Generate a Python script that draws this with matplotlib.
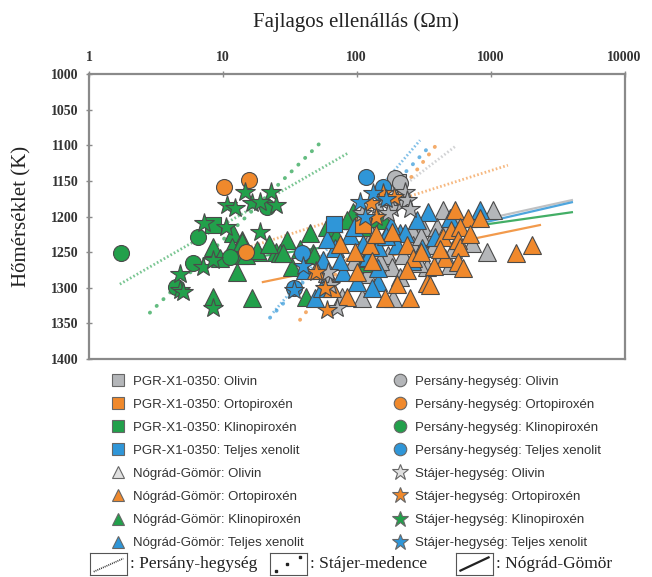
import numpy as np
import matplotlib
matplotlib.use('Agg')
import matplotlib.pyplot as plt
from matplotlib.lines import Line2D

# ---------------- colours ----------------
C_GRAY = '#b4b6b9'
C_OR = '#f0892c'
C_GR = '#22a04b'
C_BL = '#2f96d8'
EDGE = '#4a4a4a'

# ---------------- data (resistivity Ohm m, temperature K) ----------------
# PGR-X1-0350 (squares)
pgr_olivin_R = [205]
pgr_olivin_T = [1152]
pgr_orto_R = [111]
pgr_orto_T = [1212]
pgr_klino_R = [8.4]
pgr_klino_T = [1212]
pgr_teljes_R = [68]
pgr_teljes_T = [1211]

# Persany-hegyseg (circles)
per_olivin_R = [193, 212]
per_olivin_T = [1146, 1153]
per_orto_R = [10.2, 15.7, 15.0]
per_orto_T = [1159, 1149, 1250]
per_klino_R = [1.72, 6.5, 6.0, 4.5, 21.3, 11.3]
per_klino_T = [1251, 1229, 1265, 1299, 1187, 1257]
per_teljes_R = [117, 157, 39, 34]
per_teljes_T = [1144, 1159, 1251, 1300]

# Nograd-Gomor (triangles)
ng_olivin_R = [440, 310, 260, 130, 172, 222, 265, 365, 433, 183, 335, 78, 110, 187,
               60, 1040, 570, 725, 940, 395, 500, 150, 210, 290, 380, 520, 95, 120,
               300, 480]
ng_olivin_T = [1191, 1215, 1219, 1226, 1254, 1254, 1240, 1230, 1254, 1271, 1271, 1313,
               1314, 1314, 1279, 1191, 1202, 1237, 1250, 1215, 1268, 1262, 1285, 1265,
               1240, 1245, 1262, 1280, 1228, 1212]
ng_orto_R = [545, 183, 126, 440, 97, 236, 265, 455, 100, 236, 335, 84, 162, 250, 50,
             675, 830, 510, 591, 570, 591, 570, 620, 1540, 2050, 352, 140, 300, 200,
             380, 420, 130, 700, 65, 75]
ng_orto_T = [1191, 1222, 1240, 1229, 1250, 1240, 1258, 1258, 1278, 1275, 1293, 1313,
             1314, 1314, 1275, 1202, 1202, 1219, 1215, 1233, 1243, 1264, 1272, 1251,
             1240, 1296, 1225, 1250, 1295, 1270, 1245, 1262, 1225, 1300, 1238]
ng_klino_R = [11.9, 13.9, 8.4, 11.7, 13.4, 18.3, 25, 12.7, 8.4, 16.5, 9.5, 93, 141,
              159, 45, 30, 26.7, 47, 42, 33, 84, 111, 28, 14, 15, 48, 18, 60, 70, 38,
              110, 22]
ng_klino_T = [1223, 1233, 1243, 1243, 1254, 1250, 1250, 1278, 1313, 1314, 1258, 1194,
              1202, 1205, 1223, 1233, 1251, 1251, 1313, 1271, 1205, 1265, 1251, 1236,
              1254, 1254, 1247, 1215, 1228, 1245, 1215, 1238]
ng_teljes_R = [341, 89, 210, 69, 144, 119, 79, 144, 49, 830, 497, 111, 121, 144, 229,
               307, 385, 56, 41, 60, 95, 180, 260, 100, 130, 55, 75, 200, 165, 280]
ng_teljes_T = [1194, 1226, 1223, 1244, 1243, 1258, 1278, 1292, 1314, 1191, 1202, 1238,
               1257, 1272, 1223, 1244, 1229, 1261, 1275, 1232, 1215, 1212, 1262, 1292,
               1300, 1300, 1262, 1240, 1228, 1205]

# Stajer-hegyseg (stars)
st_olivin_R = [229, 200, 144, 183, 218, 236, 172, 71, 63, 61, 160, 250, 110]
st_olivin_T = [1166, 1177, 1184, 1188, 1181, 1177, 1195, 1328, 1296, 1278, 1172, 1190,
               1195]
st_orto_R = [157, 127, 60, 58, 50, 190, 140]
st_orto_T = [1167, 1181, 1331, 1300, 1278, 1172, 1200]
st_klino_R = [14.6, 22.8, 10.7, 12.3, 16.5, 18.9, 25, 7.2, 10.6, 18.9, 4.8, 4.8, 5.0,
              8.4, 7.1, 8.4]
st_klino_T = [1166, 1166, 1184, 1188, 1181, 1180, 1184, 1209, 1215, 1222, 1280, 1303,
              1306, 1328, 1271, 1261]
st_teljes_R = [133, 106, 34, 40, 165, 115]
st_teljes_T = [1167, 1180, 1303, 1270, 1175, 1200]

# Trend lines: (colour, R endpoints, T endpoints)
persany_lines = [
    (C_GR, [1.70, 86], [1295, 1111]),
    (C_BL, [23.7, 297], [1335, 1093]),
    (C_GRAY, [63, 541], [1236, 1102]),
    (C_OR, [13.4, 1346], [1247, 1128]),
]
stajer_lines = [
    (C_GR, [2.85, 57.9], [1335, 1090]),
    (C_BL, [22.5, 340], [1342, 1104]),
    (C_OR, [37.7, 384], [1345, 1102]),
]
nograd_lines = [
    (C_OR, [19.9, 2335], [1292, 1212]),
    (C_GR, [15.9, 4046], [1258, 1194]),
    (C_GRAY, [150, 4046], [1236, 1177]),
    (C_BL, [150, 4046], [1242, 1180]),
]

x_ticks = [1, 10, 100, 1000, 10000]
x_tick_labels = ['1', '10', '100', '1000', '10000']
y_ticks = [1000, 1050, 1100, 1150, 1200, 1250, 1300, 1350, 1400]

# ---------------- figure ----------------
fig = plt.figure(figsize=(6.52, 5.77), dpi=100)
ax = fig.add_axes([89 / 652, 1 - 359 / 577, (624.5 - 89) / 652, (359 - 74) / 577])
ax.set_xscale('log')
ax.set_xlim(1, 10000)
ax.set_ylim(1400, 1000)

serif = 'Liberation Serif'
sans = 'Liberation Sans'

FINE = dict(linestyle=(0, (0.6, 0.8)), linewidth=2.0, alpha=0.6)
COARSE = dict(linestyle=(0, (0.05, 2.4)), linewidth=2.8, alpha=0.7,
              dash_capstyle='round')
SOLID = dict(linestyle='-', linewidth=1.6, alpha=0.85)

for c, R, T in persany_lines:
    ax.plot(R, T, color=c, zorder=1, **FINE)
for c, R, T in stajer_lines:
    ax.plot(R, T, color=c, zorder=1, **COARSE)
for c, R, T in nograd_lines:
    ax.plot(R, T, color=c, zorder=1, **SOLID)

mk = dict(linestyle='none', markeredgecolor=EDGE, markeredgewidth=0.8)
TRI, SQ, CIR, STAR = 12.5, 11.5, 11.5, 15

# triangles
for R, T, c in [(ng_olivin_R, ng_olivin_T, C_GRAY), (ng_klino_R, ng_klino_T, C_GR),
                (ng_teljes_R, ng_teljes_T, C_BL), (ng_orto_R, ng_orto_T, C_OR)]:
    ax.plot(R, T, marker='^', markersize=TRI, markerfacecolor=c, zorder=3, **mk)
# squares
for R, T, c in [(pgr_olivin_R, pgr_olivin_T, C_GRAY), (pgr_orto_R, pgr_orto_T, C_OR),
                (pgr_klino_R, pgr_klino_T, C_GR), (pgr_teljes_R, pgr_teljes_T, C_BL)]:
    ax.plot(R, T, marker='s', markersize=SQ, markerfacecolor=c, zorder=4, **mk)
# circles
for R, T, c in [(per_olivin_R, per_olivin_T, C_GRAY), (per_orto_R, per_orto_T, C_OR),
                (per_klino_R, per_klino_T, C_GR), (per_teljes_R, per_teljes_T, C_BL)]:
    ax.plot(R, T, marker='o', markersize=CIR, markerfacecolor=c, zorder=4, **mk)
# stars
for R, T, c in [(st_olivin_R, st_olivin_T, C_GRAY), (st_orto_R, st_orto_T, C_OR),
                (st_klino_R, st_klino_T, C_GR), (st_teljes_R, st_teljes_T, C_BL)]:
    ax.plot(R, T, marker='*', markersize=STAR, markerfacecolor=c, zorder=5, **mk)

# axes styling
for s in ax.spines.values():
    s.set_color('#8a8a8a')
    s.set_linewidth(1.6)
ax.xaxis.tick_top()
ax.set_xticks(x_ticks)
ax.set_xticklabels(x_tick_labels)
ax.xaxis.set_minor_locator(matplotlib.ticker.NullLocator())
ax.set_yticks(y_ticks)
ax.tick_params(axis='both', direction='inout', length=5, width=1.0, color='#8a8a8a',
               labelsize=10, pad=5)
for lab in ax.get_xticklabels() + ax.get_yticklabels():
    lab.set_fontfamily(serif)
    lab.set_fontweight('bold')
    lab.set_color('#333333')

fig.text(356 / 652, 1 - 22 / 577, 'Fajlagos ellenállás (Ωm)', ha='center', va='center',
         fontsize=15, family=serif, color='#222222')
fig.text(22 / 652, 1 - 216 / 577, 'Hőmérséklet (K)', ha='center', va='center',
         rotation=90, fontsize=15, family=serif, color='#222222')

# ---------------- legend ----------------
def h(marker, color, ms):
    return Line2D([], [], linestyle='none', marker=marker, markersize=ms,
                  markerfacecolor=color, markeredgecolor='#666666', markeredgewidth=0.8)

left_handles = [h('s', C_GRAY, 9), h('s', C_OR, 9), h('s', C_GR, 9), h('s', C_BL, 9),
                h('^', '#e0e0e0', 9), h('^', C_OR, 9), h('^', C_GR, 9), h('^', C_BL, 9)]
left_labels = ['PGR-X1-0350: Olivin', 'PGR-X1-0350: Ortopiroxén',
               'PGR-X1-0350: Klinopiroxén', 'PGR-X1-0350: Teljes xenolit',
               'Nógrád-Gömör: Olivin', 'Nógrád-Gömör: Ortopiroxén',
               'Nógrád-Gömör: Klinopiroxén', 'Nógrád-Gömör: Teljes xenolit']
right_handles = [h('o', C_GRAY, 9), h('o', C_OR, 9), h('o', C_GR, 9), h('o', C_BL, 9),
                 h('*', '#e0e0e0', 12), h('*', C_OR, 12), h('*', C_GR, 12), h('*', C_BL, 12)]
right_labels = ['Persány-hegység: Olivin', 'Persány-hegység: Ortopiroxén',
                'Persány-hegység: Klinopiroxén', 'Persány-hegység: Teljes xenolit',
                'Stájer-hegység: Olivin', 'Stájer-hegység: Ortopiroxén',
                'Stájer-hegység: Klinopiroxén', 'Stájer-hegység: Teljes xenolit']

legkw = dict(loc='upper left', frameon=False, borderpad=0, handlelength=1.2,
             handletextpad=0.6, labelspacing=0.82, prop={'family': sans, 'size': 9.5})
leg1 = fig.legend(left_handles, left_labels, bbox_to_anchor=(103 / 652, 1 - 369 / 577), **legkw)
leg2 = fig.legend(right_handles, right_labels, bbox_to_anchor=(385 / 652, 1 - 369 / 577), **legkw)
for leg in (leg1, leg2):
    for t in leg.get_texts():
        t.set_color('#333333')

# ---------------- line-style key ----------------
keys = [(90, 'fine', ': Persány-hegység'), (270, 'coarse', ': Stájer-medence'),
        (456, 'solid', ': Nógrád-Gömör')]
for x0, kind, label in keys:
    kax = fig.add_axes([x0 / 652, 1 - 575 / 577, 37 / 652, 22 / 577])
    kax.set_xlim(0, 1)
    kax.set_ylim(0, 1)
    kax.set_xticks([])
    kax.set_yticks([])
    for s in kax.spines.values():
        s.set_color('#555555')
        s.set_linewidth(0.8)
    if kind == 'fine':
        kax.plot([0.1, 0.9], [0.15, 0.75], color='#333333', linestyle=(0, (0.6, 0.6)),
                 linewidth=1.2)
    elif kind == 'coarse':
        kax.plot([0.15, 0.45, 0.8], [0.2, 0.5, 0.8], color='#222222', linestyle='none',
                 marker='s', markersize=1.7)
    else:
        kax.plot([0.12, 0.88], [0.2, 0.8], color='#222222', linewidth=1.6)
    fig.text((x0 + 40) / 652, 1 - 564 / 577, label, ha='left', va='center',
             fontsize=12.5, family=serif, color='#222222')

fig.savefig('out.png', dpi=100)
